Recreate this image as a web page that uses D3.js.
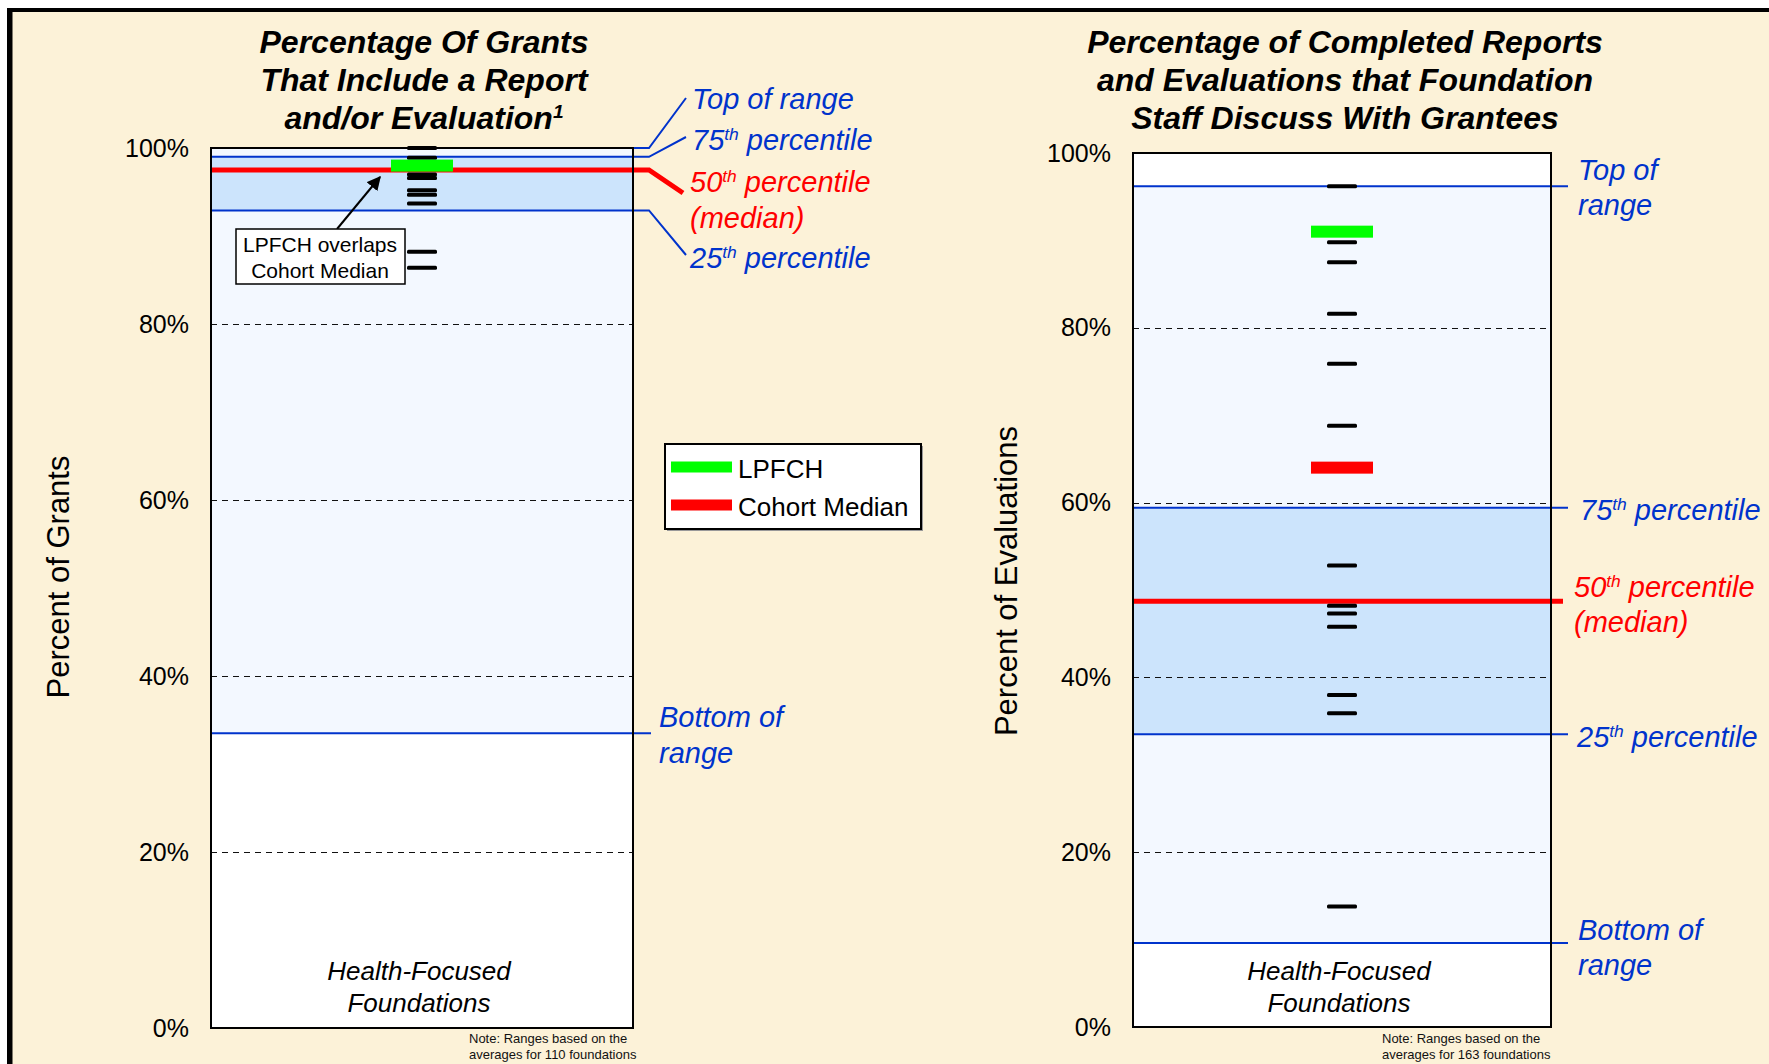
<!DOCTYPE html>
<html>
<head>
<meta charset="utf-8">
<script src="https://cdn.jsdelivr.net/npm/d3@7"></script>
<style>
  body { margin: 0; background: #fff; }
  svg { display: block; font-family: "Liberation Sans", Arial, sans-serif; }
</style>
</head>
<body>
<div id="chart"></div>
<script>
// ---- data (percent values) ----
const statKeys = ["top", "p75", "median", "p25", "bottom"];

// left chart: % of grants that include a report and/or evaluation
const grantsStats = [100, 99.0, 97.5, 92.9, 33.5];
const grantsFoundations = [100, 98.9, 97.0, 96.6, 95.2, 94.7, 93.7, 88.2, 86.4];
const grantsLPFCH = 98.0;

// right chart: % of completed reports discussed with grantees
const discussStats = [96.2, 59.4, 48.7, 33.5, 9.6];
const discussFoundations = [96.2, 89.8, 87.5, 81.6, 75.9, 68.8, 52.8, 48.2, 47.3, 45.8, 38.0, 35.9, 13.8];
const discussLPFCH = 91.0;
const discussCohortMedian = 64.0;

const yTicks = [0, 20, 40, 60, 80, 100];
const gridTicks = [20, 40, 60, 80];

const W = 1769, H = 1064;
const BLUE = "#0033cc", RED = "#ff0000", GREEN = "#00ff00";
const BG = "#fcf2d8";

const svg = d3.select("#chart").append("svg")
    .attr("width", W)
    .attr("height", H);

// frame
svg.append("rect").attr("width", W).attr("height", H).attr("fill", "#fff");
svg.append("rect").attr("x", 7).attr("y", 8).attr("width", W).attr("height", H).attr("fill", BG);
svg.append("rect").attr("x", 7).attr("y", 8).attr("width", W).attr("height", 4).attr("fill", "#000");
svg.append("rect").attr("x", 7).attr("y", 8).attr("width", 5.5).attr("height", H).attr("fill", "#000");

const defs = svg.append("defs");
defs.append("marker")
    .attr("id", "arrow")
    .attr("viewBox", "0 0 10 10")
    .attr("refX", 9).attr("refY", 5)
    .attr("markerWidth", 7).attr("markerHeight", 7)
    .attr("markerUnits", "strokeWidth")
    .attr("orient", "auto")
    .append("path")
    .attr("d", "M0,0 L10,5 L0,10 z")
    .attr("fill", "#000");

// text with optional superscript parts: parts = [[text, isSup], ...]
function addText(g, x, y, parts, opts) {
    const t = g.append("text")
        .attr("x", x)
        .attr("y", y)
        .attr("dy", "0.35em")
        .attr("fill", opts.color || "#000")
        .attr("font-size", opts.size)
        .attr("font-style", opts.italic ? "italic" : null)
        .attr("font-weight", opts.bold ? "bold" : null)
        .attr("text-anchor", opts.anchor || "start");
    let raised = false;
    parts.forEach(p => {
        const sup = p[1];
        const s = t.append("tspan").text(p[0]);
        if (sup && !raised) {
            s.attr("font-size", opts.size * 0.6).attr("dy", -opts.size * 0.35);
            raised = true;
        } else if (!sup && raised) {
            s.attr("dy", opts.size * 0.35);
            raised = false;
        }
    });
    return t;
}

class RangeChart {
    constructor(svg, cfg) {
        let vis = this;
        vis.svg = svg;
        vis.cfg = cfg;
        vis.stats = {};
        statKeys.forEach((k, i) => vis.stats[k] = cfg.stats[i]);
        vis.initVis();
    }

    initVis() {
        let vis = this;
        const c = vis.cfg;
        vis.g = vis.svg.append("g");

        vis.y = d3.scaleLinear().domain([0, 100]).range([c.bottom, c.top]);
        vis.cx = (c.left + c.right) / 2;

        vis.drawBands();
        vis.drawAxis();
        vis.drawRangeLines();
        vis.drawMarks();
        vis.drawText();
    }

    drawBands() {
        let vis = this;
        const c = vis.cfg, y = vis.y, s = vis.stats;
        const w = c.right - c.left;

        vis.g.append("rect")
            .attr("x", c.left).attr("y", y(100))
            .attr("width", w).attr("height", y(0) - y(100))
            .attr("fill", "#fff");

        const bands = [
            [s.top, s.p75, "#f3f8ff"],
            [s.p75, s.p25, "#cce4fc"],
            [s.p25, s.bottom, "#f3f8ff"]
        ];
        vis.g.selectAll(".band")
            .data(bands)
            .enter().append("rect")
            .attr("class", "band")
            .attr("x", c.left)
            .attr("y", d => y(d[0]))
            .attr("width", w)
            .attr("height", d => y(d[1]) - y(d[0]))
            .attr("fill", d => d[2]);

        vis.g.selectAll(".grid")
            .data(gridTicks)
            .enter().append("line")
            .attr("class", "grid")
            .attr("x1", c.left).attr("x2", c.right)
            .attr("y1", d => Math.round(y(d)) + 0.5).attr("y2", d => Math.round(y(d)) + 0.5)
            .attr("stroke", "#111")
            .attr("stroke-width", 1.2)
            .attr("stroke-dasharray", "6,5");
    }

    drawAxis() {
        let vis = this;
        const c = vis.cfg;
        const axis = d3.axisLeft(vis.y)
            .tickValues(yTicks)
            .tickFormat(d => d + "%")
            .tickSize(0)
            .tickPadding(22);

        const ag = vis.g.append("g")
            .attr("transform", `translate(${c.left},0)`)
            .call(axis);
        ag.select(".domain").remove();
        ag.attr("font-family", null).attr("font-size", null);
        ag.selectAll("text")
            .attr("font-size", 25)
            .attr("fill", "#000");

        vis.g.append("text")
            .attr("transform", `translate(${c.axisTitleX},${c.axisTitleY}) rotate(-90)`)
            .attr("text-anchor", "middle")
            .attr("dy", "0.35em")
            .attr("font-size", 31)
            .text(c.axisTitle);
    }

    drawRangeLines() {
        let vis = this;
        const c = vis.cfg, y = vis.y;

        statKeys.forEach(k => {
            const v = vis.stats[k];
            const isMed = k === "median";
            const conn = c.connectors[k];
            const pts = [[c.left, y(v)], [conn.x, y(v)]];
            if (conn.end) pts.push(conn.end);
            vis.g.append("path")
                .attr("d", d3.line()(pts))
                .attr("fill", "none")
                .attr("stroke", isMed ? RED : BLUE)
                .attr("stroke-width", isMed ? 5 : 2);
        });
    }

    drawMarks() {
        let vis = this;
        const c = vis.cfg, y = vis.y;

        vis.g.selectAll(".foundation")
            .data(c.foundations)
            .enter().append("rect")
            .attr("class", "foundation")
            .attr("x", vis.cx - 15)
            .attr("y", d => y(d) - 2)
            .attr("width", 30)
            .attr("height", 4)
            .attr("rx", 1.5)
            .attr("fill", "#000");

        const bars = [[c.lpfch, GREEN]];
        if (c.cohortMedian != null) bars.push([c.cohortMedian, RED]);
        vis.g.selectAll(".bar")
            .data(bars)
            .enter().append("rect")
            .attr("class", "bar")
            .attr("x", vis.cx - 31)
            .attr("y", d => y(d[0]) - 6)
            .attr("width", 62)
            .attr("height", 12)
            .attr("fill", d => d[1]);

        // plot border on top
        vis.g.append("rect")
            .attr("x", c.left).attr("y", y(100))
            .attr("width", c.right - c.left).attr("height", y(0) - y(100))
            .attr("fill", "none")
            .attr("stroke", "#000")
            .attr("stroke-width", 2);
    }

    drawText() {
        let vis = this;
        const c = vis.cfg;

        c.title.forEach((line, i) => {
            addText(vis.g, c.titleX, 42 + i * 38, line,
                { size: 32, bold: true, italic: true, anchor: "middle" });
        });

        c.labels.forEach(l => {
            addText(vis.g, l.x, l.y, l.parts,
                { size: 29, italic: true, color: l.color || BLUE });
        });

        ["Health-Focused", "Foundations"].forEach((t, i) => {
            vis.g.append("text")
                .attr("x", vis.cx - 3).attr("y", 971 + i * 32)
                .attr("dy", "0.35em")
                .attr("text-anchor", "middle")
                .attr("font-size", 26)
                .attr("font-style", "italic")
                .text(t);
        });

        c.note.forEach((t, i) => {
            vis.g.append("text")
                .attr("x", c.noteX).attr("y", 1038 + i * 16)
                .attr("dy", "0.35em")
                .attr("font-size", 13)
                .attr("fill", "#111")
                .text(t);
        });
    }
}

// ---- left chart ----
new RangeChart(svg, {
    left: 211, right: 633, top: 148, bottom: 1028,
    stats: grantsStats,
    foundations: grantsFoundations,
    lpfch: grantsLPFCH,
    cohortMedian: null,
    axisTitle: "Percent of Grants", axisTitleX: 58, axisTitleY: 577,
    titleX: 424,
    title: [
        [["Percentage Of Grants"]],
        [["That Include a Report"]],
        [["and/or Evaluation"], ["1", true]]
    ],
    connectors: {
        top: { x: 649, end: [686, 98] },
        p75: { x: 649, end: [686, 137] },
        median: { x: 649, end: [683, 193] },
        p25: { x: 649, end: [686, 255] },
        bottom: { x: 651 }
    },
    labels: [
        { x: 692, y: 99, parts: [["Top of range"]] },
        { x: 692, y: 140, parts: [["75"], ["th", true], [" percentile"]] },
        { x: 690, y: 182, parts: [["50"], ["th", true], [" percentile"]], color: RED },
        { x: 690, y: 218, parts: [["(median)"]], color: RED },
        { x: 690, y: 258, parts: [["25"], ["th", true], [" percentile"]] },
        { x: 659, y: 717, parts: [["Bottom of"]] },
        { x: 659, y: 753, parts: [["range"]] }
    ],
    noteX: 469,
    note: ["Note: Ranges based on the", "averages for 110 foundations"]
});

// ---- right chart ----
new RangeChart(svg, {
    left: 1133, right: 1551, top: 153, bottom: 1027,
    stats: discussStats,
    foundations: discussFoundations,
    lpfch: discussLPFCH,
    cohortMedian: discussCohortMedian,
    axisTitle: "Percent of Evaluations", axisTitleX: 1006, axisTitleY: 581,
    titleX: 1345,
    title: [
        [["Percentage of Completed Reports"]],
        [["and Evaluations that Foundation"]],
        [["Staff Discuss With Grantees"]]
    ],
    connectors: {
        top: { x: 1568 },
        p75: { x: 1568 },
        median: { x: 1563 },
        p25: { x: 1568 },
        bottom: { x: 1568 }
    },
    labels: [
        { x: 1578, y: 170, parts: [["Top of"]] },
        { x: 1578, y: 205, parts: [["range"]] },
        { x: 1580, y: 510, parts: [["75"], ["th", true], [" percentile"]] },
        { x: 1574, y: 587, parts: [["50"], ["th", true], [" percentile"]], color: RED },
        { x: 1574, y: 622, parts: [["(median)"]], color: RED },
        { x: 1577, y: 737, parts: [["25"], ["th", true], [" percentile"]] },
        { x: 1578, y: 930, parts: [["Bottom of"]] },
        { x: 1578, y: 965, parts: [["range"]] }
    ],
    noteX: 1382,
    note: ["Note: Ranges based on the", "averages for 163 foundations"]
});

// ---- annotation + legend (left chart) ----
const ann = svg.append("g");
ann.append("line")
    .attr("x1", 337).attr("y1", 229)
    .attr("x2", 380).attr("y2", 177)
    .attr("stroke", "#000")
    .attr("stroke-width", 2)
    .attr("marker-end", "url(#arrow)");
ann.append("rect")
    .attr("x", 236).attr("y", 229)
    .attr("width", 169).attr("height", 55)
    .attr("fill", "#fff")
    .attr("stroke", "#000")
    .attr("stroke-width", 1.5);
["LPFCH overlaps", "Cohort Median"].forEach((t, i) => {
    ann.append("text")
        .attr("x", 320).attr("y", 245 + i * 26)
        .attr("dy", "0.35em")
        .attr("text-anchor", "middle")
        .attr("font-size", 21)
        .text(t);
});

const legendItems = [["LPFCH", GREEN], ["Cohort Median", RED]];
const legend = svg.append("g");
legend.append("rect")
    .attr("x", 667).attr("y", 446)
    .attr("width", 256).attr("height", 85)
    .attr("fill", "#999");
legend.append("rect")
    .attr("x", 665).attr("y", 444)
    .attr("width", 256).attr("height", 85)
    .attr("fill", "#fff")
    .attr("stroke", "#000")
    .attr("stroke-width", 2);
legend.selectAll(".lg")
    .data(legendItems)
    .enter().append("g")
    .attr("class", "lg")
    .attr("transform", (d, i) => `translate(0,${467 + i * 38})`)
    .each(function(d) {
        const g = d3.select(this);
        g.append("rect")
            .attr("x", 671).attr("y", -5.5)
            .attr("width", 61).attr("height", 11)
            .attr("fill", d[1]);
        g.append("text")
            .attr("x", 738).attr("y", 2)
            .attr("dy", "0.35em")
            .attr("font-size", 26)
            .text(d[0]);
    });
</script>
</body>
</html>
